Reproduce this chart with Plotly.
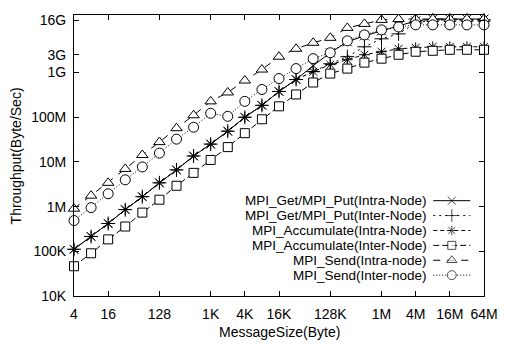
import plotly.graph_objects as go

# ---------------- data ----------------
msg_size = [4, 8, 16, 32, 64, 128, 256, 512, 1024, 2048, 4096, 8192, 16384, 32768,
            65536, 131072, 262144, 524288, 1048576, 2097152, 4194304, 8388608,
            16777216, 33554432, 67108864]

getput_intra = [111e3, 215e3, 419e3, 858e3, 1.67e6, 3.41e6, 6.64e6, 13.6e6, 25.1e6, 48.8e6,
                100e6, 185e6, 378e6, 699e6, 1.43e9, 2.78e9, 4.88e9, 6.64e9, 8.58e9, 11.1e9,
                14.3e9, 15.8e9, 15.8e9, 15.8e9, 15.8e9]
getput_inter = [111e3, 215e3, 419e3, 858e3, 1.67e6, 3.41e6, 6.64e6, 13.6e6, 25.1e6, 48.8e6,
                100e6, 185e6, 378e6, 699e6, 1.05e9, 1.58e9, 2.27e9, 3.78e9, 5.70e9, 7.36e9,
                12.9e9, 15.1e9, 15.1e9, 15.1e9, 15.1e9]
acc_intra = [111e3, 215e3, 419e3, 858e3, 1.67e6, 3.41e6, 6.64e6, 13.6e6, 25.1e6, 48.8e6,
             100e6, 185e6, 378e6, 699e6, 1.05e9, 1.51e9, 1.94e9, 2.51e9, 2.93e9, 3.41e9,
             3.59e9, 3.78e9, 3.78e9, 3.78e9, 3.78e9]
acc_inter = [46.4e3, 90.3e3, 185e3, 359e3, 735e3, 1.43e6, 2.93e6, 5.70e6, 11.1e6, 21.5e6,
             44.1e6, 90.3e6, 176e6, 324e6, 600e6, 950e6, 1.23e9, 1.67e9, 2.05e9, 2.51e9,
             2.93e9, 3.08e9, 3.24e9, 3.24e9, 3.24e9]
send_intra = [0.90e6, 1.76e6, 3.41e6, 6.99e6, 14.3e6, 27.8e6, 57.0e6, 111e6, 227e6, 359e6,
              664e6, 1.17e9, 2.27e9, 3.41e9, 4.64e9, 6.0e9, 10.0e9, 12.3e9, 15.1e9, 15.8e9,
              15.8e9, 15.8e9, 15.8e9, 15.8e9, 15.8e9]
send_inter = [488e3, 950e3, 1.94e6, 3.98e6, 7.74e6, 15.8e6, 32.4e6, 59.9e6, 123e6, 105e6,
              227e6, 419e6, 736e6, 1.23e9, 2.05e9, 2.78e9, 5.14e9, 6.99e9, 9.03e9, 10.5e9,
              11.7e9, 11.7e9, 11.7e9, 11.7e9, 11.7e9]

series_names = ["MPI_Get/MPI_Put(Intra-Node)", "MPI_Get/MPI_Put(Inter-Node)",
                "MPI_Accumulate(Intra-Node)", "MPI_Accumulate(Inter-Node)",
                "MPI_Send(Intra-node)", "MPI_Send(Inter-node)"]
series_values = [getput_intra, getput_inter, acc_intra, acc_inter, send_intra, send_inter]

x_tickvals = [4, 16, 128, 1024, 4096, 16384, 131072, 1048576, 4194304, 16777216, 67108864]
x_ticktext = ["4", "16", "128", "1K", "4K", "16K", "128K", "1M", "4M", "16M", "64M"]
y_tickvals = [1e4, 1e5, 1e6, 1e7, 1e8, 1e9, 2.5e9, 1.5e10]
y_ticktext = ["10K", "100K", "1M", "10M", "100M", "1G", "3G", "16G"]

# ---------------- styles ----------------
FONT = "Liberation Sans, Arial, sans-serif"
FS = 14
FS_LEG = 13.5
styles = [
    dict(dash="solid", symbol="x-thin", size=9, fill="black"),
    dict(dash="2px,4px", symbol="cross-thin", size=10, fill="black"),
    dict(dash="4px,3px", symbol="asterisk", size=9, fill="black"),
    dict(dash="6px,3px", symbol="square", size=9, fill="white"),
    dict(dash="7px,7px", symbol="triangle-up", size=10, fill="white"),
    dict(dash="1px,2px", symbol="circle", size=10, fill="white"),
]

# plot-area geometry in pixels (for paper-coordinate placement of labels)
PL, PR, PT, PB = 74, 494, 13, 296


def px_to_paper(px, py):
    return (px - PL) / (PR - PL), (PB - py) / (PB - PT)


fig = go.Figure()
for name, vals, st in zip(series_names, series_values, styles):
    fig.add_trace(go.Scatter(
        x=msg_size, y=vals, mode="lines+markers", name=name, showlegend=False,
        line=dict(color="black", width=1, dash=st["dash"]),
        marker=dict(symbol=st["symbol"], size=st["size"], color=st["fill"],
                    line=dict(color="black", width=1)),
        cliponaxis=False,
    ))

# ---------------- custom legend (text left, sample right) ----------------
L_TEXT_X = 438
L_SAMPLE = [442, 461, 480]
L_ROWS = [200, 215, 230, 245, 260, 275]
for name, st, ry in zip(series_names, styles, L_ROWS):
    fig.add_trace(go.Scatter(
        x=L_SAMPLE, y=[ry, ry, ry], xaxis="x2", yaxis="y2", mode="lines+markers",
        showlegend=False, hoverinfo="skip",
        line=dict(color="black", width=1, dash=st["dash"]),
        marker=dict(symbol=st["symbol"], size=[0, st["size"] - 1, 0], color=st["fill"],
                    line=dict(color="black", width=1)),
    ))
    ax, ay = px_to_paper(L_TEXT_X, ry)
    fig.add_annotation(x=ax, y=ay, xref="paper", yref="paper", text=name,
                       showarrow=False, xanchor="right", yanchor="middle",
                       font=dict(family=FONT, size=FS_LEG, color="black"))

# axis titles
tx, ty = px_to_paper(284, 332)
fig.add_annotation(x=tx, y=ty, xref="paper", yref="paper", text="MessageSize(Byte)",
                   showarrow=False, xanchor="center", yanchor="middle",
                   font=dict(family=FONT, size=FS, color="black"))
tx, ty = px_to_paper(15, 155)
fig.add_annotation(x=tx, y=ty, xref="paper", yref="paper", text="Throughput(Byte/Sec)",
                   showarrow=False, textangle=-90, xanchor="center", yanchor="middle",
                   font=dict(family=FONT, size=FS, color="black"))

axis_common = dict(showline=True, linecolor="black", linewidth=1, mirror="ticks",
                   ticks="inside", ticklen=5, tickcolor="black", tickwidth=1,
                   showgrid=False, zeroline=False,
                   tickfont=dict(family=FONT, size=FS, color="black"))

fig.update_layout(
    width=510, height=344, autosize=False,
    margin=dict(l=PL, r=510 - PR, t=PT, b=344 - PB, pad=0),
    paper_bgcolor="white", plot_bgcolor="white",
    xaxis=dict(type="log", range=[0.6020, 7.8268], tickvals=x_tickvals,
               ticktext=x_ticktext, ticklabelstandoff=5, **axis_common),
    yaxis=dict(type="log", range=[4, 10.289], tickvals=y_tickvals,
               ticktext=y_ticktext, ticklabelstandoff=4, **axis_common),
    xaxis2=dict(overlaying="x", range=[PL, PR], visible=False),
    yaxis2=dict(overlaying="y", range=[PB, PT], visible=False),
)

fig.write_html("out.html")
